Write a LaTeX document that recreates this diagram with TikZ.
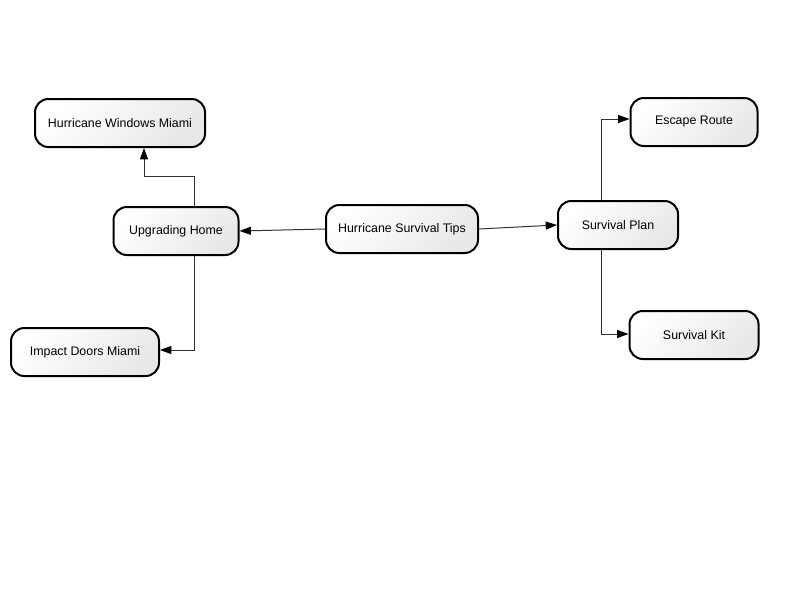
\documentclass[tikz,border=0pt]{standalone}
\usepackage{fontspec}
\setmainfont{Liberation Sans}
\usetikzlibrary{arrows.meta,calc,positioning}

\begin{document}
\begin{tikzpicture}[x=0.75pt,y=-0.75pt,>={Triangle[length=8.5pt,width=6pt,black]},
    font=\fontsize{9.3}{11}\selectfont]
  \tikzstyle{topic}=[draw, line width=1.5pt, rounded corners=10pt, minimum height=36pt,
    top color=white, bottom color=black!9, shading angle=45, inner sep=2pt]
  \tikzstyle{link}=[->, line width=0.75pt, draw=black!80]
  \useasboundingbox (0,0) rectangle (800,600);
  % centre and branches
  \node[topic, minimum width=114pt]   (tips)    at (402,229) {Hurricane Survival Tips};
  \node[topic, minimum width=93.75pt] (home)    at (176,231) {Upgrading Home};
  \node[topic, minimum width=90pt]    (plan)    at (618,225) {Survival Plan};
  % leaves
  \node[topic, minimum width=127.5pt] (windows) at (120,123) {Hurricane Windows Miami};
  \node[topic, minimum width=111pt]   (doors)   at (85,352)  {Impact Doors Miami};
  \node[topic, minimum width=95.25pt] (escape)  at (694,122) {Escape Route};
  \node[topic, minimum width=96.75pt] (kit)     at (694,335) {Survival Kit};
  % connectors
  \draw[link] (tips.west) -- (home.east);
  \draw[link] (tips.east) -- (plan.west);
  \draw[link] ($(home.north)+(18,0)$) -- ++(0,-30) -| ($(windows.south)+(24,0)$);
  \draw[link] ($(home.south)+(18,0)$) |- ($(doors.east)+(0,-2)$);
  \draw[link] ($(plan.north)+(-17,0)$) |- ($(escape.west)+(0,-3)$);
  \draw[link] ($(plan.south)+(-17,0)$) |- ($(kit.west)+(0,-1)$);
\end{tikzpicture}
\end{document}
